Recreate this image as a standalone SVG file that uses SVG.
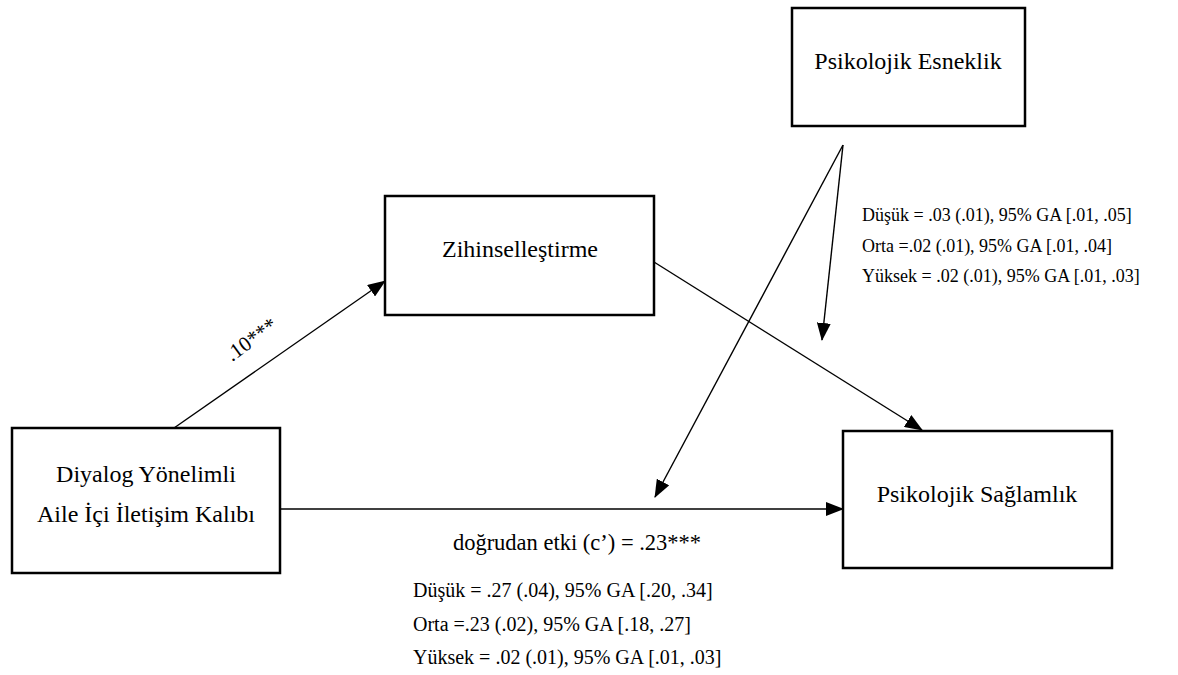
<svg xmlns="http://www.w3.org/2000/svg" width="1178" height="675" viewBox="0 0 1178 675">
<style>
.box{fill:#fff;stroke:#000;stroke-width:2.5}
.lbl{font-family:"Liberation Serif","Times New Roman",serif;font-size:24px;fill:#000;text-anchor:middle}
.conn line{stroke:#000;stroke-width:1.4;marker-end:url(#ah)}
.stat{font-family:"Liberation Serif","Times New Roman",serif;fill:#000}
</style>
<defs>
<marker id="ah" markerUnits="userSpaceOnUse" markerWidth="18" markerHeight="14" refX="17" refY="7" orient="auto" viewBox="0 0 18 14">
<path d="M0,0 L18,7 L0,14 z" fill="#000"/>
</marker>
</defs>
<rect width="1178" height="675" fill="#fff"/>
<g class="conn" id="connectors">
<line x1="174" y1="428" x2="385" y2="281"/>
<line x1="654" y1="262" x2="922" y2="430"/>
<line x1="280" y1="509" x2="843" y2="509"/>
<line x1="843" y1="145" x2="822" y2="340"/>
<line x1="843" y1="145" x2="655" y2="497"/>
</g>
<g id="node-esneklik">
<rect class="box" x="792" y="8" width="233" height="118"/>
<text class="lbl" x="908" y="69">Psikolojik Esneklik</text>
</g>
<g id="node-zihin">
<rect class="box" x="385" y="196" width="269" height="119"/>
<text class="lbl" x="520" y="257">Zihinselleştirme</text>
</g>
<g id="node-diyalog">
<rect class="box" x="12" y="428" width="268" height="145"/>
<text class="lbl" x="146" y="482" font-size="24.5">Diyalog Yönelimli</text>
<text class="lbl" x="146" y="522" font-size="24.5">Aile İçi İletişim Kalıbı</text>
</g>
<g id="node-saglamlik">
<rect class="box" x="843" y="431" width="269" height="137"/>
<text class="lbl" x="977" y="502">Psikolojik Sağlamlık</text>
</g>
<g id="labels">
<text class="stat" font-size="21" transform="translate(232,362) rotate(-36)">.10***</text>
<text class="stat" font-size="22.5" x="577" y="550" text-anchor="middle">doğrudan etki (c’) = .23***</text>
<g font-size="18">
<text class="stat" x="862" y="221">Düşük = .03 (.01), 95% GA [.01, .05]</text>
<text class="stat" x="862" y="252">Orta =.02 (.01), 95% GA [.01, .04]</text>
<text class="stat" x="862" y="282">Yüksek = .02 (.01), 95% GA [.01, .03]</text>
</g>
<g font-size="20">
<text class="stat" x="413" y="597">Düşük = .27 (.04), 95% GA [.20, .34]</text>
<text class="stat" x="413" y="631">Orta =.23 (.02), 95% GA [.18, .27]</text>
<text class="stat" x="413" y="664">Yüksek = .02 (.01), 95% GA [.01, .03]</text>
</g>
</g>
</svg>
